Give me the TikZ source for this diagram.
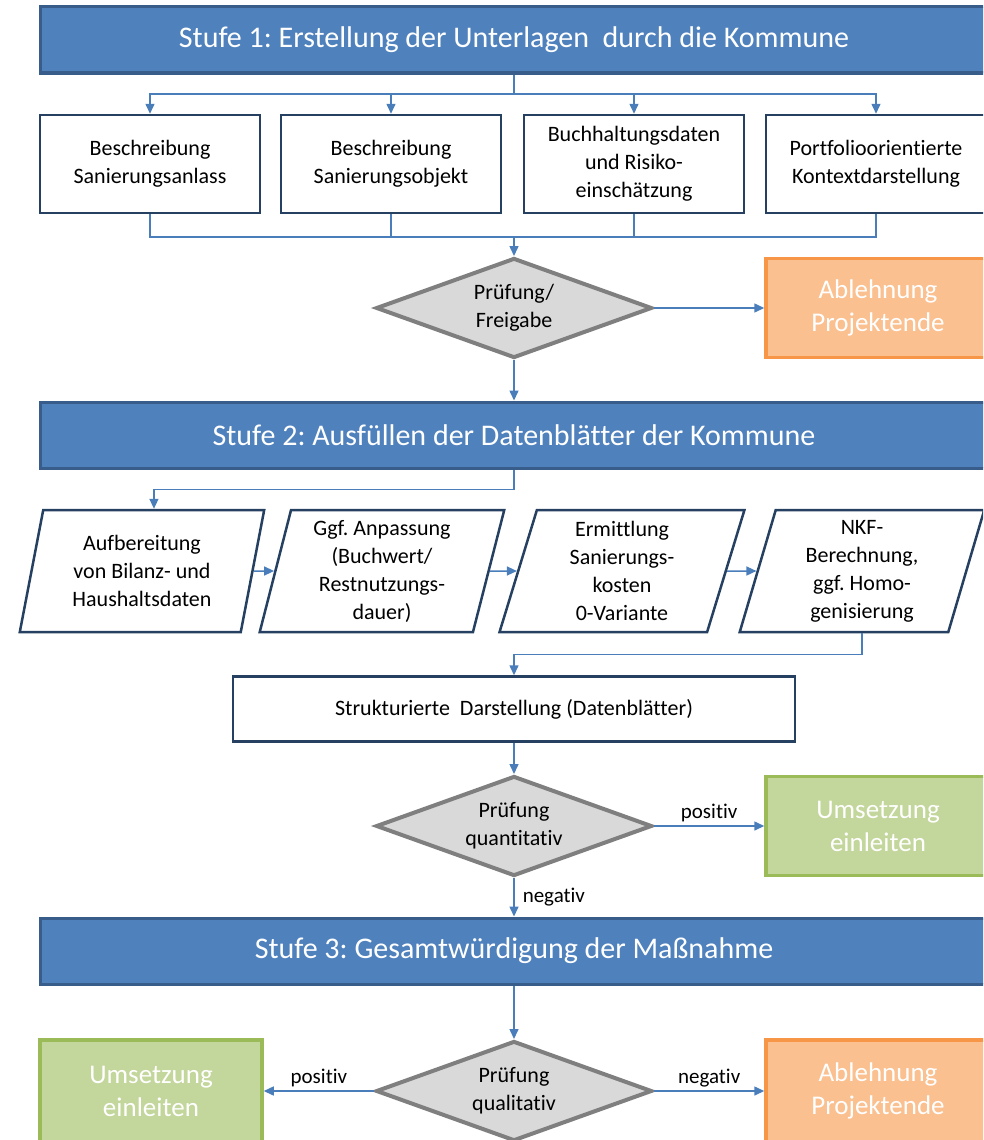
\documentclass[tikz,border=0pt]{standalone}
\usepackage{fontspec}
\setmainfont{Carlito}[Ligatures=NoCommon]
\frenchspacing
\usetikzlibrary{shapes.geometric,arrows.meta}

\definecolor{stufeblau}{HTML}{4F81BD}
\definecolor{stuferand}{HTML}{385D8A}
\definecolor{kastenrand}{HTML}{254061}
\definecolor{pfeilblau}{HTML}{4A7EBB}
\definecolor{rautegrau}{HTML}{D9D9D9}
\definecolor{rautenrand}{HTML}{7F7F7F}
\definecolor{orangefill}{HTML}{FAC090}
\definecolor{orangerand}{HTML}{F79646}
\definecolor{gruenfill}{HTML}{C3D69B}
\definecolor{gruenrand}{HTML}{9BBB59}

\tikzset{
  stufe/.style={draw=stuferand, line width=3pt, fill=stufeblau, text=white, minimum width=948pt, minimum height=66pt, inner sep=0pt, font=\fontsize{30}{36}\selectfont},
  kasten/.style={draw=kastenrand, line width=2.5pt, fill=white, align=center, inner sep=0pt, font=\fontsize{22}{28}\selectfont},
  daten/.style={trapezium, trapezium left angle=77, trapezium right angle=103, trapezium stretches=true, draw=kastenrand, line width=2.5pt, fill=white, align=center, inner sep=0pt, minimum width=245pt, minimum height=122pt, font=\fontsize{22}{28}\selectfont},
  raute/.style={diamond, aspect=2.76, draw=rautenrand, line width=4pt, fill=rautegrau, align=center, inner sep=0pt, minimum width=276pt, minimum height=100pt, font=\fontsize{22}{28}\selectfont},
  ende/.style={draw=orangerand, fill=orangefill, line width=3.5pt, text=white, align=center, minimum width=224pt, minimum height=99pt, font=\fontsize{27}{33}\selectfont},
  weiter/.style={ende, draw=gruenrand, fill=gruenfill},
  pfeil/.style={draw=pfeilblau, line width=1.5pt, -{Triangle[length=10pt,width=9pt]}},
  linie/.style={draw=pfeilblau, line width=1.5pt},
  lbl/.style={font=\fontsize{21}{25}\selectfont, inner sep=3pt}
}

\begin{document}
\begin{tikzpicture}[x=1pt,y=-1pt]
  \useasboundingbox (0,0) rectangle (983,1140);
  \clip (0,0) rectangle (983,1140);

  % Stufe 1
  \node[stufe] (s1) at (514,40) {Stufe 1: Erstellung der Unterlagen~ durch die Kommune};
  \foreach \i/\x/\t in {1/150/{Beschreibung\\Sanierungsanlass}, 2/391/{Beschreibung\\Sanierungsobjekt}, 3/634/{Buchhaltungsdaten\\und Risiko-\\einschätzung}, 4/876/{Portfolioorientierte\\Kontextdarstellung}}
    \node[kasten, minimum width=220pt, minimum height=98pt] (b\i) at (\x,164) {\t};
  \coordinate (v1) at (514,94);
  \coordinate (m1) at (514,237);
  \draw[linie] (s1.south) -- (v1);
  \foreach \i in {1,...,4}
    {\draw[pfeil] (v1) -| (b\i.north); \draw[linie] (b\i.south) |- (m1);}

  \node[raute] (q1) at (514,308) {Prüfung/\\Freigabe};
  \node[ende] (e1) at (878,308) {Ablehnung\\Projektende};
  \draw[pfeil] (m1) -- (q1.north);
  \draw[pfeil] (q1.east) -- (e1.west);

  % Stufe 2
  \node[stufe] (s2) at (514,435) {Stufe 2: Ausfüllen der Datenblätter der Kommune};
  \draw[pfeil] (q1.south) -- (s2.north);
  \foreach \i/\x/\t in {1/142/{Aufbereitung\\von Bilanz- und\\Haushaltsdaten}, 2/382/{Ggf. Anpassung\\(Buchwert/\\Restnutzungs-\\dauer)}, 3/622/{Ermittlung\\Sanierungs-\\kosten\\0-Variante}, 4/862/{NKF-\\Berechnung,\\ggf. Homo-\\genisierung}}
    \node[daten] (p\i) at (\x,571) {\t};
  \draw[pfeil] (s2.south) -- ++(0,20) -| (p1.top side);
  \foreach \i/\j in {1/2,2/3,3/4}
    \draw[pfeil] (p\i.east) -- (p\j.west);

  \node[kasten, minimum width=562pt, minimum height=65pt] (sd) at (514,709) {Strukturierte~ Darstellung (Datenblätter)};
  \draw[pfeil] (p4.south) -- ++(0,21) -| (sd.north);
  \node[raute] (q2) at (514,826) {Prüfung\\quantitativ};
  \draw[pfeil] (sd.south) -- (q2.north);
  \node[weiter] (g1) at (878,826) {Umsetzung\\einleiten};
  \draw[pfeil] (q2.east) -- node[lbl, above] {positiv} (g1.west);

  % Stufe 3
  \node[stufe] (s3) at (514,951) {Stufe 3: Gesamtwürdigung der Maßnahme};
  \draw[pfeil] (q2.south) -- node[lbl, right, xshift=5pt] {negativ} (s3.north);
  \node[raute] (q3) at (514,1091) {Prüfung\\qualitativ};
  \draw[pfeil] (s3.south) -- (q3.north);
  \node[weiter, minimum width=222pt, minimum height=102pt] (g2) at (151,1091) {Umsetzung\\einleiten};
  \node[ende, minimum height=102pt] (e2) at (878,1091) {Ablehnung\\Projektende};
  \draw[pfeil] (q3.west) -- node[lbl, above] {positiv} (g2.east);
  \draw[pfeil] (q3.east) -- node[lbl, above] {negativ} (e2.west);
\end{tikzpicture}
\end{document}
